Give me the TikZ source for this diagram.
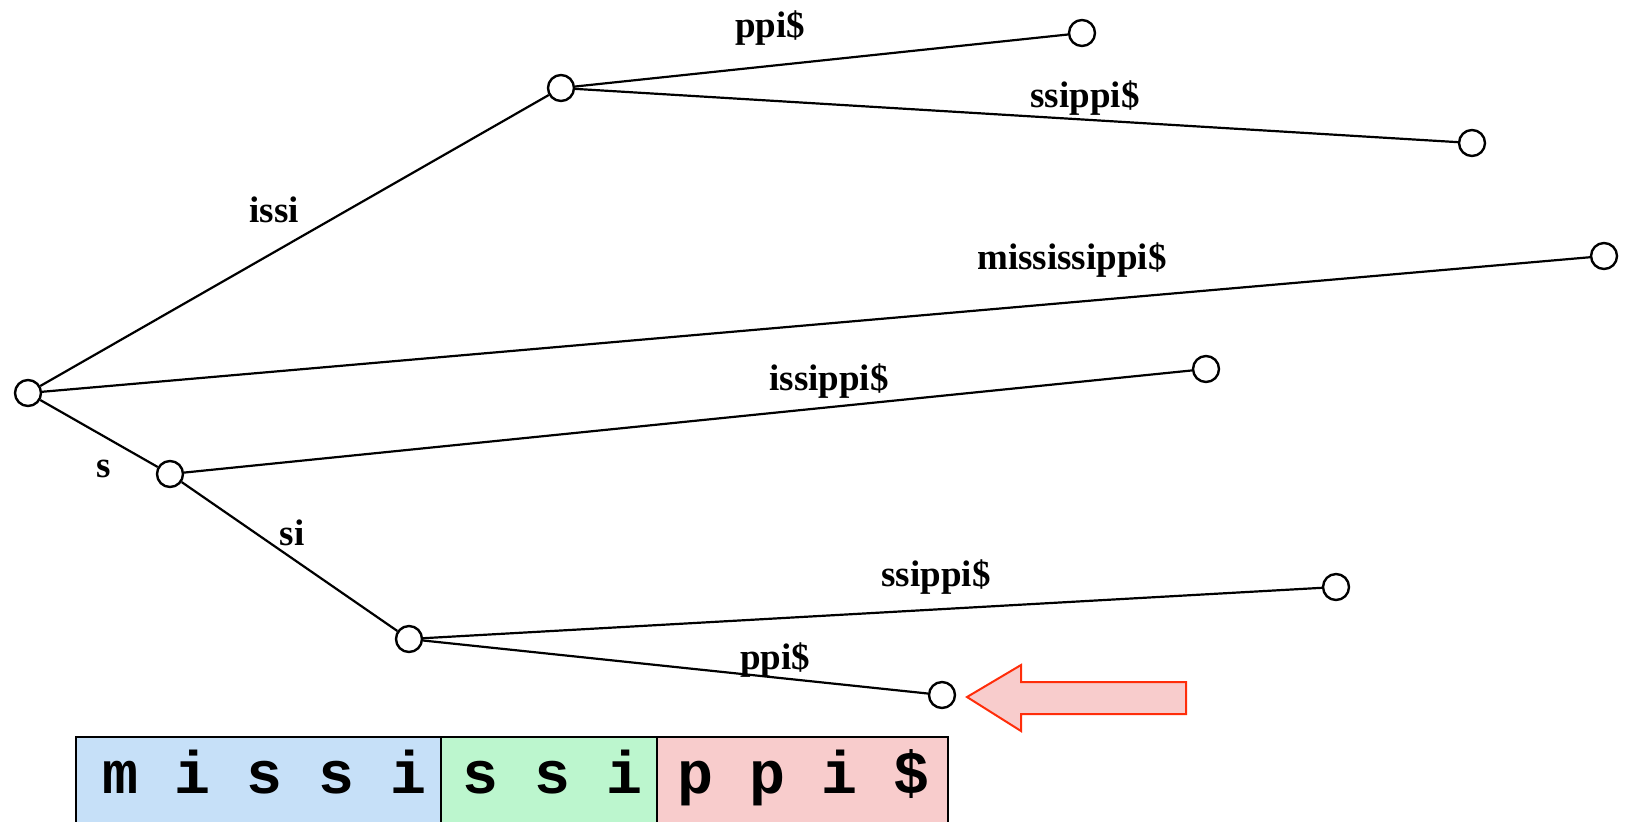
\documentclass[tikz,border=0pt]{standalone}
\usepackage{fontspec}
\setmainfont{Liberation Serif}
\newfontfamily\cellfont{Liberation Mono}
\definecolor{cellblue}{RGB}{198,224,248}
\definecolor{cellgreen}{RGB}{188,246,206}
\definecolor{cellpink}{RGB}{248,204,204}
\definecolor{arrowred}{RGB}{255,45,10}
\tikzset{
  state/.style={draw, circle, line width=1.2pt, fill=white, minimum size=13pt, inner sep=0pt},
  trie/.style={line width=1.1pt},
  lbl/.style={font=\bfseries\fontsize{18.5}{20}\selectfont, inner sep=0pt},
  cell/.style={draw, line width=1pt},
  celltext/.style={font=\cellfont\bfseries\fontsize{30}{32}\selectfont, inner sep=0pt, anchor=base},
}
\newcommand*{\StateNodes}[1]{% #1 = list of x/y/name
\foreach \x/\y/\nm in {#1} {
\node [state] (\nm) at (\x,\y) {};
}%
}
\newcommand*{\EdgeLabels}[1]{% #1 = list of x/y/name/label
\foreach \x/\y/\nm/\lab in {#1} {
\node [lbl] (\nm) at (\x,\y) {\lab};
}%
}

\begin{document}
\begin{tikzpicture}[x=0.5pt, y=-0.5pt]
            \useasboundingbox (0,0) rectangle (1625,821);

            % trie nodes
            \StateNodes{28/393/root, 561/88/issi, 1082/33/ppiA, 1472/143/ssippiA,
                        1604/256/miss, 170/474/s, 1206/369/issippi,
                        409/639/si, 1336/587/ssippiB, 942/695/ppiB}

            \draw [trie] (root) -- (issi);
            \draw [trie] (issi) -- (ppiA);
            \draw [trie] (issi) -- (ssippiA);
            \draw [trie] (root) -- (miss);
            \draw [trie] (root) -- (s);
            \draw [trie] (s) -- (issippi);
            \draw [trie] (s) -- (si);
            \draw [trie] (si) -- (ssippiB);
            \draw [trie] (si) -- (ppiB);

            % edge labels
            \EdgeLabels{770/28/l-ppiA/{ppi\$}, 1085/98/l-ssippiA/{ssippi\$},
                        274/210/l-issi/{issi}, 1072/260/l-miss/{mississippi\$},
                        829/381/l-issippi/{issippi\$}, 104/469/l-s/{s},
                        292/533/l-si/{si}, 936/577/l-ssippiB/{ssippi\$},
                        775/660/l-ppiB/{ppi\$}}

            % pointer
            \draw [arrowred, line width=1pt, fill=cellpink]
                (967,697) -- (1021,665) -- (1021,682) -- (1186,682)
                -- (1186,714) -- (1021,714) -- (1021,731) -- cycle;

            % string cells
            \draw [cell, fill=cellblue] (76,737) rectangle (441,840);
            \draw [cell, fill=cellgreen] (441,737) rectangle (657,840);
            \draw [cell, fill=cellpink] (657,737) rectangle (948,840);
            \node [celltext] (c-blue) at (265,793) {m i s s i};
            \node [celltext] (c-green) at (553,793) {s s i};
            \node [celltext] (c-pink) at (804,793) {p p i \$};
\end{tikzpicture}
\end{document}
